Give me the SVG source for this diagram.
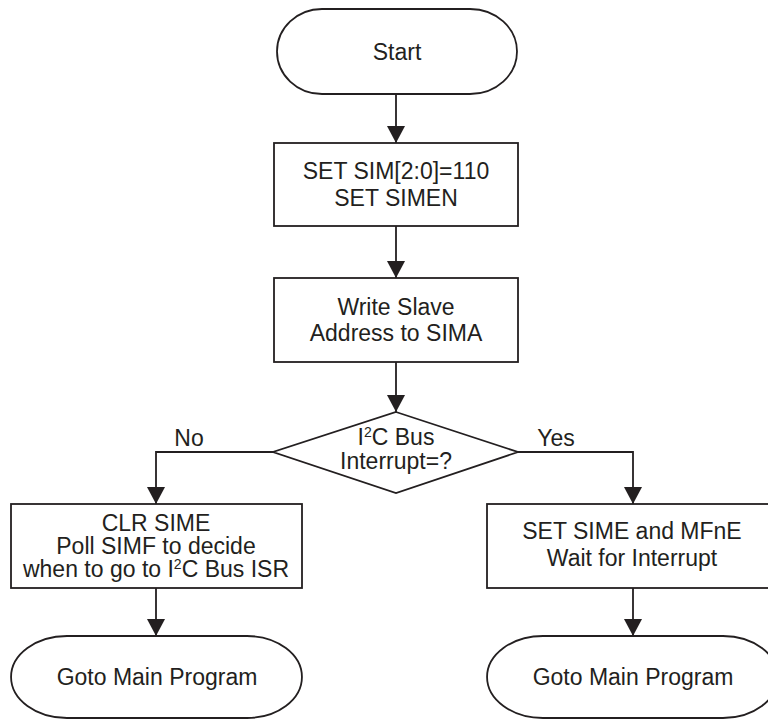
<svg xmlns="http://www.w3.org/2000/svg" width="768" height="719" viewBox="0 0 768 719">
<defs>
<marker id="arr" markerUnits="userSpaceOnUse" markerWidth="18" markerHeight="18" viewBox="0 0 18 18" refX="17" refY="9" orient="auto">
<path d="M0,0 L17,9 L0,18 Z" fill="#231f20"/>
</marker>
<style>
.shape{fill:#fff;stroke:#231f20;stroke-width:1.8}
.conn{fill:none;stroke:#231f20;stroke-width:1.8}
text{font-family:"Liberation Sans",Arial,sans-serif;font-size:23px;fill:#231f20;text-anchor:middle}
.sup{font-size:14px}
</style>
</defs>
<rect width="768" height="719" fill="#fff"/>
<g id="connectors">
<path class="conn" d="M396,94 V143" marker-end="url(#arr)"/>
<path class="conn" d="M396,226 V278" marker-end="url(#arr)"/>
<path class="conn" d="M396,362 V412" marker-end="url(#arr)"/>
<path class="conn" d="M273,452 H156 V504" marker-end="url(#arr)"/>
<path class="conn" d="M518,452 H633 V504" marker-end="url(#arr)"/>
<path class="conn" d="M156,588 V636" marker-end="url(#arr)"/>
<path class="conn" d="M633,588 V636" marker-end="url(#arr)"/>
<text x="189" y="446">No</text>
<text x="556" y="446">Yes</text>
</g>
<g id="start">
<path class="shape" d="M322,9 H470 A47,42.5 0 0 1 470,94 H322 A45,42.5 0 0 1 322,9 Z"/>
<text x="397" y="60">Start</text>
</g>
<g id="set-sim">
<rect class="shape" x="274" y="143" width="244" height="83"/>
<text x="396" y="179">SET SIM[2:0]=110</text>
<text x="396" y="206">SET SIMEN</text>
</g>
<g id="write-addr">
<rect class="shape" x="274" y="278" width="244" height="84"/>
<text x="396" y="315">Write Slave</text>
<text x="396" y="341">Address to SIMA</text>
</g>
<g id="decision">
<path class="shape" d="M396,412 L518,452 L396,493 L273,452 Z"/>
<text x="396" y="445">I<tspan class="sup" dy="-8">2</tspan><tspan dy="8">C Bus</tspan></text>
<text x="396" y="469">Interrupt=?</text>
</g>
<g id="clr-sime">
<rect class="shape" x="11" y="504" width="291" height="84"/>
<text x="156" y="531">CLR SIME</text>
<text x="156" y="554">Poll SIMF to decide</text>
<text x="156" y="577">when to go to I<tspan class="sup" dy="-8">2</tspan><tspan dy="8">C Bus ISR</tspan></text>
</g>
<g id="set-sime">
<rect class="shape" x="487" y="504" width="290" height="84"/>
<text x="632" y="539">SET SIME and MFnE</text>
<text x="632" y="566">Wait for Interrupt</text>
</g>
<g id="goto-main-left">
<path class="shape" d="M67,636 H247 A55,41 0 0 1 247,718 H67 A56,41 0 0 1 67,636 Z"/>
<text x="157" y="685">Goto Main Program</text>
</g>
<g id="goto-main-right">
<path class="shape" d="M543,636 H723 A55,41 0 0 1 723,718 H543 A56,41 0 0 1 543,636 Z"/>
<text x="633" y="685">Goto Main Program</text>
</g>
</svg>
